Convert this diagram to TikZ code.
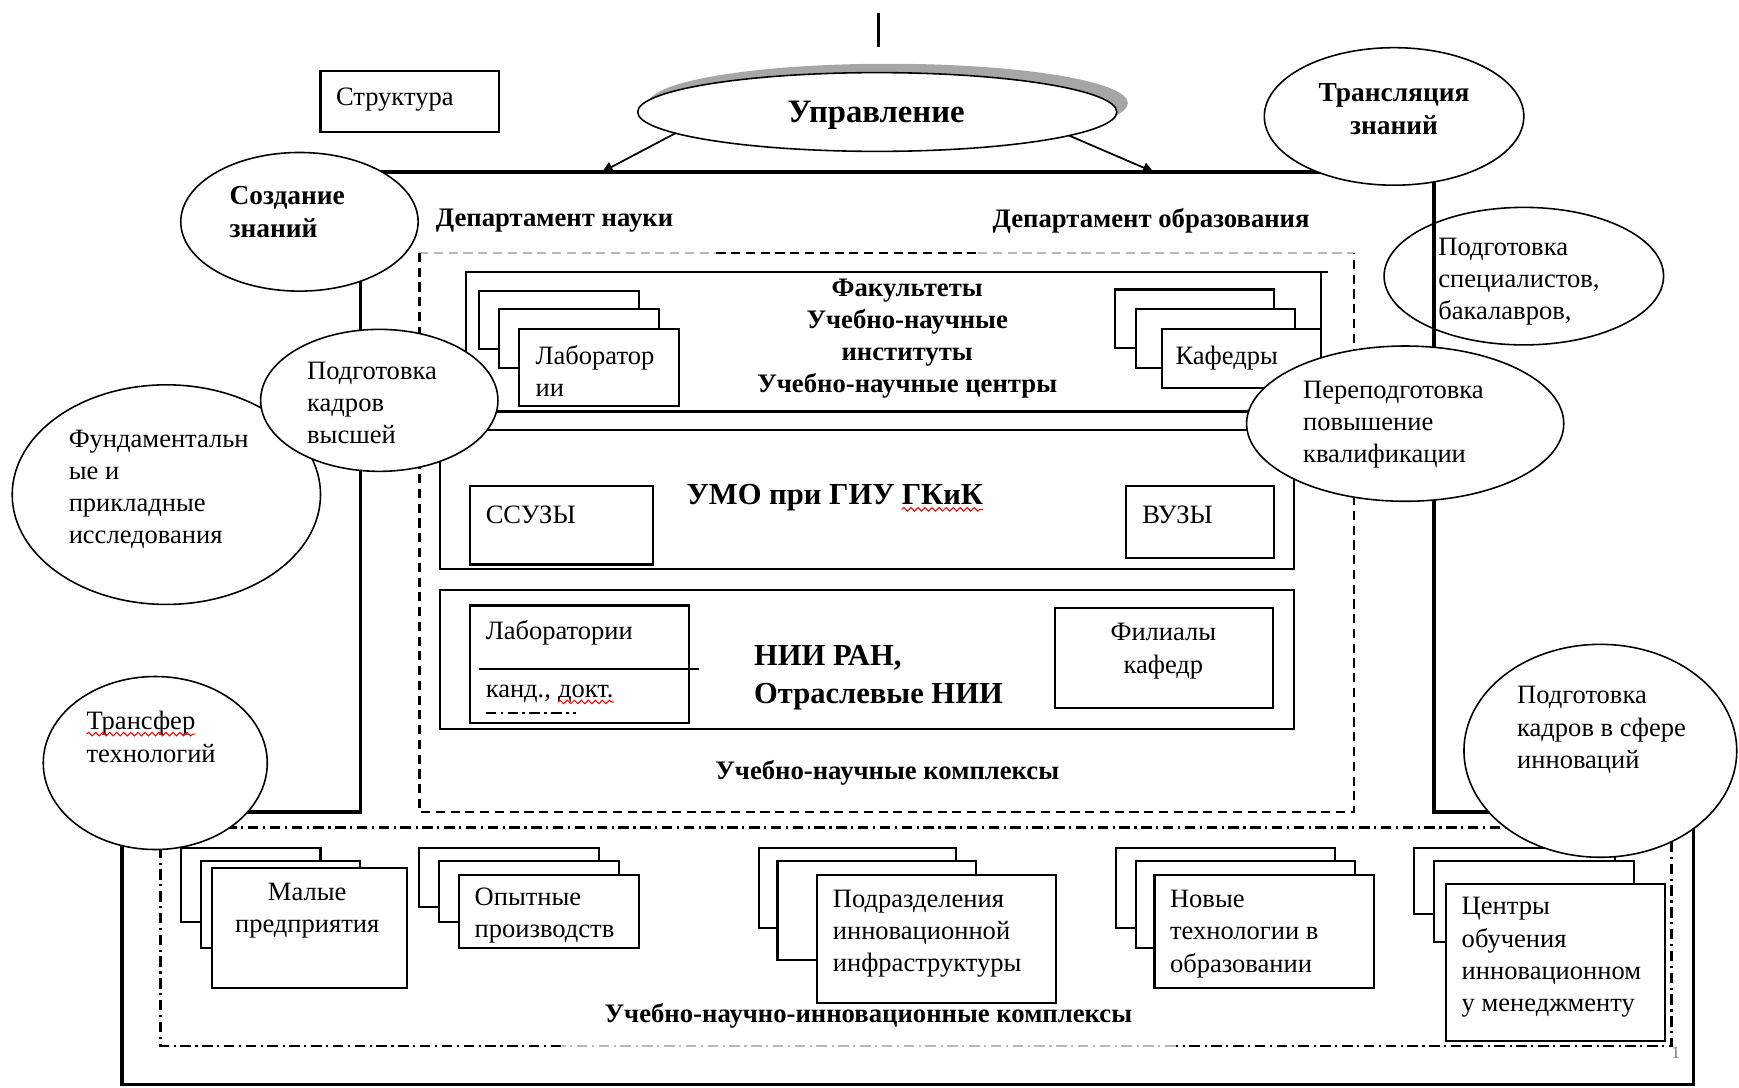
\documentclass[tikz,border=0pt]{standalone}
\usepackage{fontspec}
\setmainfont{Liberation Serif}
\usetikzlibrary{shapes.geometric,arrows.meta,decorations.pathmorphing}
\newcommand\fr{\fontsize{7.55}{9.15}\selectfont}
\newcommand\fb{\fontsize{7.6}{9.15}\selectfont\bfseries}
\newcommand\fbc{\fontsize{7.8}{9.5}\selectfont\bfseries}
\newcommand\fbig{\fontsize{8.7}{10.7}\selectfont\bfseries}
\newcommand\fupr{\fontsize{9.3}{11}\selectfont\bfseries}
\begin{document}
\begin{tikzpicture}[x=0.01109cm, y=-0.01109cm,
  ell/.style 2 args={ellipse, draw, fill=white, inner sep=0pt, outer sep=0pt, minimum width=#1*0.01109cm, minimum height=#2*0.01109cm, line width=0.45pt},
  rbox/.style 2 args={rectangle, draw, fill=white, inner sep=0pt, outer sep=0pt, anchor=north west, minimum width=#1*0.01109cm, minimum height=#2*0.01109cm, line width=0.6pt},
  tx/.style={inner sep=0pt, outer sep=0pt, yshift=-1pt},
  txt/.style={tx, font=\fr, align=left, anchor=west},
  txtb/.style={tx, font=\fb, align=left, anchor=west},
  ctr/.style={tx, font=\fr, align=center},
  ctrb/.style={tx, font=\fb, align=center},
  frm/.style={line width=1.05pt},
  frmtop/.style={line width=1.35pt},
  dsh/.style={line width=0.75pt, dash pattern=on 2.6pt off 1.6pt},
  ddot/.style={line width=0.75pt, dash pattern=on 3pt off 1.3pt on 0.6pt off 1.3pt},
  arr/.style={line width=0.5pt, -{Triangle[length=3pt,width=3pt]}},
  wavy/.style={red, line width=0.3pt, decorate, decoration={snake, amplitude=0.5pt, segment length=2pt}},
]
\useasboundingbox (0,0) rectangle (1568,981);

% top tick
\draw[line width=1pt] (792,12) -- (792,42);

% Structure label box
\node[rbox={161}{55}] (struct) at (289,64) {};

% management ellipse with shadow
\node[ell={432}{71}, draw=none, fill=gray!70] (uprShadow) at (801,93) {};
\node[ell={432}{71}] (upr) at (791,101) {};
\coordinate (aL) at (543,155);
\coordinate (aR) at (1040,155);

% upper thick frame
\draw[frmtop] (325,155) -- (1293,155);
\draw[frm] (325,155) -- (325,732) -- (200,732);
\draw[frm] (1293,155) -- (1293,732) -- (1400,732);
\draw[arr] (upr.186) -- (aL);
\draw[arr] (upr.353.5) -- (aR);

% lower frame
\draw[frm] (110,750) -- (110,978) -- (1527,978) -- (1527,735);

% dashed rectangle
\draw[dsh, gray!55] (378,228) -- (646,228);
\draw[dsh] (646,228) -- (882,228);
\draw[dsh, gray!55] (882,228) -- (1221,228);
\draw[dsh] (378,228) -- (378,732) -- (1221,732) -- (1221,228);

% dash-dot rectangle
\draw[ddot] (145,746) -- (1507,746) -- (1507,943) -- (1060,943);
\draw[ddot, gray!55] (1060,943) -- (506,943);
\draw[ddot] (506,943) -- (145,943) -- (145,746);

% faculties box
\node[rbox={771}{126}, fill=none] (fac) at (420,245) {};
\draw[line width=0.6pt] (fac.north east) -- ++(6,0);
\node[rbox={144}{53}] (lab1) at (432,262) {};
\node[rbox={144}{53}] (lab2) at (450,279) {};
\node[rbox={144}{69}] (lab3) at (468,297) {};
\node[rbox={144}{53}] (kaf1) at (1005,261) {};
\node[rbox={144}{53}] (kaf2) at (1024,279) {};
\node[rbox={143}{53}] (kaf3) at (1048,297) {};

% UMO box
\node[rbox={770}{125}, fill=none] (umo) at (397,388) {};
\node[rbox={165}{71}] (ssuz) at (424,438) {};
\node[rbox={134}{65}] (vuz) at (1015,438) {};

% NII box
\node[rbox={770}{125}, fill=none] (nii) at (397,532) {};
\node[rbox={197}{106}] (labN) at (424,546) {};
\coordinate (labLineA) at (432,603);
\coordinate (labLineB) at (630,603);
\draw[line width=0.6pt] (labLineA) -- (labLineB);
\coordinate (dotA) at (438,643);
\coordinate (dotB) at (519,643);
\draw[line width=0.6pt, dash pattern=on 3pt off 1.2pt on 0.8pt off 1.2pt] (dotA) -- (dotB);
\node[rbox={197}{90}] (fil) at (951,548) {};

% bottom stacks
\node[rbox={126}{66}] (mal1) at (163,765) {};
\node[rbox={144}{79}] (mal2) at (181,776) {};
\node[rbox={176}{108}] (mal3) at (191,783) {};
\node[rbox={162}{53}] (op1) at (378,765) {};
\node[rbox={162}{55}] (op2) at (396,776) {};
\node[rbox={162}{66}] (op3) at (414,789) {};
\node[rbox={178}{72}] (pod1) at (684,765) {};
\node[rbox={179}{90}] (pod2) at (701,776) {};
\node[rbox={215}{115}] (pod3) at (737,789) {};
\node[rbox={198}{72}] (nov1) at (1006,765) {};
\node[rbox={198}{79}] (nov2) at (1024,776) {};
\node[rbox={198}{102}] (nov3) at (1041,789) {};
\node[rbox={181}{59}] (cen1) at (1275,765) {};
\node[rbox={180}{73}] (cen2) at (1293,776) {};
\node[rbox={197}{142}] (cen3) at (1304,797) {};

% ellipses
\node[ell={214}{125}] (sozd) at (270,200) {};
\node[ell={234}{124}] (transl) at (1257,105) {};
\node[ell={252}{124}, fill=none] (spec) at (1374,249) {};
\node[ell={278}{198}] (fund) at (150,446) {};
\node[ell={214}{128}] (podvys) at (342,361) {};
\node[ell={286}{140}] (perep) at (1267,382) {};
\node[ell={202}{156}] (transf) at (140,688) {};
\node[ell={246}{192}] (innov) at (1443,677) {};

% texts
\node[txt] (structT) at (303,87) {Структура};
\node[tx, font=\fupr] (uprT) at (790,101) {Управление};
\node[tx, font=\fbc, align=left, anchor=west] (sozdT) at (207,188) {Создание\\знаний};
\node[tx, font=\fbc, align=center] (translT) at (1257,95) {Трансляция\\знаний};
\node[txtb] (depN) at (393,196) {Департамент науки};
\node[txtb] (depO) at (895,196) {Департамент образования};
\node[ctrb] (facT) at (818,302) {Факультеты\\Учебно-научные\\институты\\Учебно-научные центры};
\node[txt] (lab3T) at (483,331) {Лаборатор\\ии};
\node[txt] (kaf3T) at (1060,320) {Кафедры};
\node[txt] (podvysT) at (277,360) {Подготовка\\кадров\\высшей};
\node[txt] (specT) at (1297,251) {Подготовка\\специалистов,\\бакалавров,};
\node[txt] (perepT) at (1175,380) {Переподготовка\\повышение\\квалификации};
\node[txt] (fundT) at (62,438) {Фундаментальн\\ые и\\прикладные\\исследования};
\node[tx, font=\fbig, anchor=base west] (umoT) at (619,452) {УМО при ГИУ};
\node[tx, font=\fbig, anchor=base west, yshift=1pt] (umoK) at ([xshift=2pt]umoT.base east) {ГКиК};
\draw[wavy] ([yshift=-1.3pt]umoK.south west) -- ([yshift=-1.3pt]umoK.south east);
\node[txt] (ssuzT) at (438,461) {ССУЗЫ};
\node[txt] (vuzT) at (1030,461) {ВУЗЫ};
\node[txt] (labNT) at (438,567) {Лаборатории};
\node[tx, font=\fr, anchor=base west] (kand) at (438,626) {канд.,};
\node[tx, font=\fr, anchor=base west, yshift=1pt] (dokt) at ([xshift=2pt]kand.base east) {докт.};
\draw[wavy] ([yshift=-1.2pt]dokt.base west) -- ([yshift=-1.2pt]dokt.base east);
\node[tx, font=\fbig, align=left, anchor=west] (niiT) at (680,608) {НИИ РАН,\\Отраслевые НИИ};
\node[ctr] (filT) at (1049,584) {Филиалы\\кафедр};
\node[ctrb] (uncT) at (800,694) {Учебно-научные комплексы};
\node[tx, font=\fr, anchor=base west] (transfT1) at (78,655) {Трансфер};
\draw[wavy] ([yshift=-1.2pt]transfT1.base west) -- ([yshift=-1.2pt]transfT1.base east);
\node[tx, font=\fr, anchor=base west] (transfT2) at (78,684) {технологий};
\node[txt] (innovT) at (1368,655) {Подготовка\\кадров в сфере\\инноваций};
\node[ctr] (mal3T) at (277,818) {Малые\\предприятия};
\node[txt] (op3T) at (428,822) {Опытные\\производств};
\node[txt] (pod3T) at (751,839) {Подразделения\\инновационной\\инфраструктуры};
\node[txt] (nov3T) at (1055,839) {Новые\\технологии в\\образовании};
\node[txt] (cen3T) at (1318,860) {Центры\\обучения\\инновационном\\у менеджменту};
\node[ctrb] (unicT) at (783,913) {Учебно-научно-инновационные комплексы};
\node[tx, font=\fontsize{5}{6}\selectfont, text=gray] (pgnum) at (1511,946) {1};
\end{tikzpicture}
\end{document}
